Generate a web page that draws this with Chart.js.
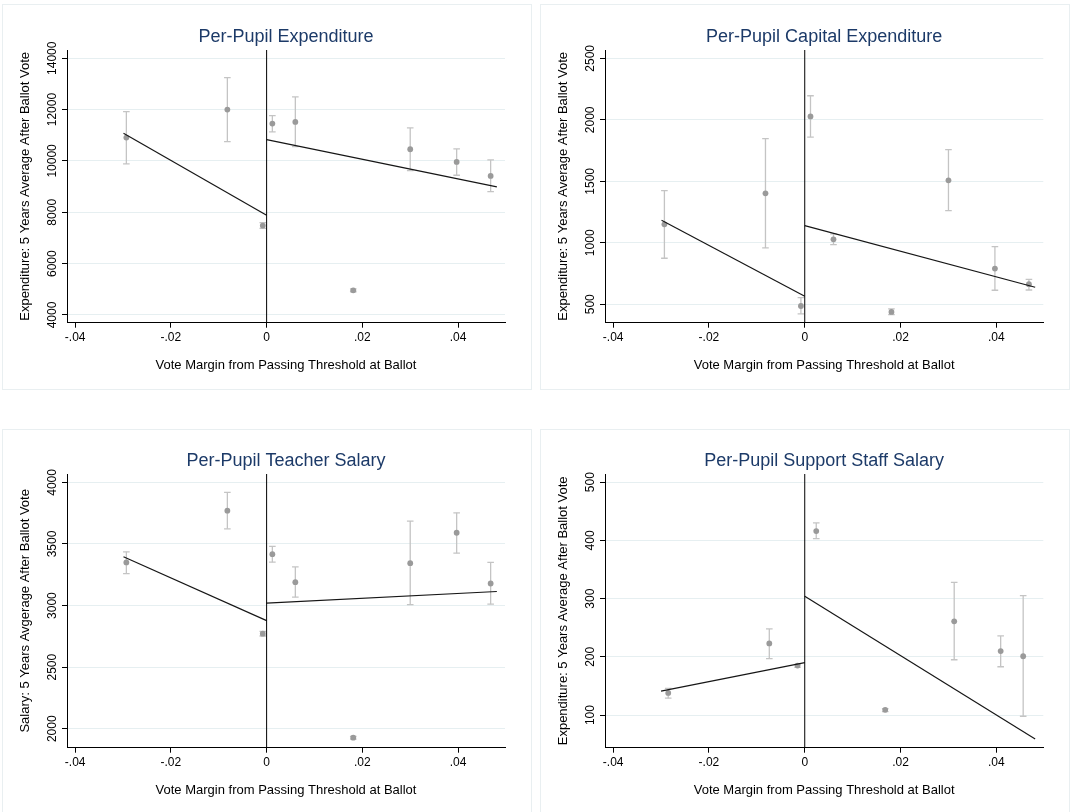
<!DOCTYPE html>
<html>
<head>
<meta charset="utf-8">
<title>Per-Pupil Outcomes around the Ballot Threshold</title>
<script src="https://cdn.jsdelivr.net/npm/chart.js@4.4.1/dist/chart.umd.min.js"></script>
<style>
  html, body { margin: 0; padding: 0; background: #fff; }
  #page { position: relative; width: 1070px; height: 812px; overflow: hidden; }
  .frame { position: absolute; border: 1px solid #e9eff1; box-sizing: border-box; }
  canvas { position: absolute; }
</style>
</head>
<body>
<div id="page">
  <div class="frame" style="left:2px; top:4px; width:530px; height:386px;"></div>
  <div class="frame" style="left:540px; top:4px; width:530px; height:386px;"></div>
  <div class="frame" style="left:2px; top:429px; width:530px; height:384px;"></div>
  <div class="frame" style="left:540px; top:429px; width:530px; height:384px;"></div>

  <canvas id="cExp"   width="535" height="400" style="left:0; top:0;"></canvas>
  <canvas id="cCap"   width="532" height="400" style="left:538px; top:0;"></canvas>
  <canvas id="cSal"   width="535" height="388" style="left:0; top:424px;"></canvas>
  <canvas id="cStaff" width="532" height="388" style="left:538px; top:424px;"></canvas>
</div>

<script>
// ---- shared x axis: vote margin bins ----
const xRange      = [-0.0417, 0.0498];
const xTicks      = [-0.04, -0.02, 0, 0.02, 0.04];
const xTickLabels = ['-.04', '-.02', '0', '.02', '.04'];
const binX        = [-0.0293, -0.0082, -0.0008, 0.0012, 0.0060, 0.0181, 0.0300, 0.0397, 0.0468];
const fitLeftX    = [-0.0299, 0];
const fitRightX   = [0, 0.0481];

// ---- per-pupil expenditure ----
const expMean     = [10909, 12000, 7481, 11455, 11519, 4961, 10455, 9961, 9416];
const expLow      = [9883, 10753, 7377, 11130, 10558, 4905, 9623, 9442, 8805];
const expHigh     = [11922, 13247, 7597, 11766, 12494, 5015, 11286, 10468, 10039];
const expFitLeft  = [11078, 7883];
const expFitRight = [10831, 8987];
const expTicks    = [4000, 6000, 8000, 10000, 12000, 14000];
const expRange    = [3700, 14320];

// ---- per-pupil capital expenditure ----
const capMean     = [1150, 1402, 486, 2028, 1028, 438, 1508, 790, 663];
const capLow      = [874, 958, 421, 1860, 985, 416, 1261, 614, 616];
const capHigh     = [1424, 1847, 554, 2196, 1072, 462, 1757, 969, 703];
const capFitLeft  = [1183, 565];
const capFitRight = [1140, 638];
const capTicks    = [500, 1000, 1500, 2000, 2500];
const capRange    = [350, 2568];

// ---- per-pupil teacher salary ----
const salMean     = [3350, 3770, 2772, 3417, 3190, 1927, 3344, 3591, 3179];
const salLow      = [3260, 3623, 2753, 3352, 3068, 1916, 3008, 3425, 3011];
const salHigh     = [3436, 3919, 2791, 3480, 3314, 1938, 3686, 3753, 3350];
const salFitLeft  = [3396, 2878];
const salFitRight = [3019, 3114];
const salTicks    = [2000, 2500, 3000, 3500, 4000];
const salRange    = [1846, 4068];

// ---- per-pupil support staff salary ----
const staffX        = [-0.0285, -0.0074, -0.0015, 0.0024, 0.0168, 0.0312, 0.0409, 0.0456];
const staffMean     = [138, 223, 185, 416, 109, 261, 210, 201];
const staffLow      = [129, 197, 182, 403, 106, 195, 183, 98];
const staffHigh     = [146, 248, 187, 430, 111, 328, 236, 305];
const staffFitLeftX = [-0.0300, 0];
const staffFitLeft  = [141, 190];
const staffFitRight = [304, 59];
const staffTicks    = [100, 200, 300, 400, 500];
const staffRange    = [44, 514];

const FONT = "'Liberation Sans', Arial, Helvetica, sans-serif";
const TICK_SIZE = 12;
const colors = {
  title: '#1c3a68',
  text:  '#000000',
  axis:  '#000000',
  grid:  '#e6eff1',
  dot:   '#9a9a9a',
  ci:    '#c4c4c4',
  fit:   '#161616'
};

// width of the widest tick label, used to centre the rotated y labels
function widestLabel(labels) {
  const ctx = document.createElement('canvas').getContext('2d');
  ctx.font = `${TICK_SIZE}px ${FONT}`;
  return Math.max(...labels.map(l => ctx.measureText(l).width));
}

function line(xs, ys) {
  return xs.map((x, i) => ({ x, y: ys[i] }));
}

function renderPanel(canvasId, cfg) {
  const ctx = document.getElementById(canvasId).getContext('2d');
  const yLabels = cfg.yTicks.map(String);
  const yPad = 14.5 - 5 - widestLabel(yLabels) / 2;

  const lineStyle = (color, width) => ({
    showLine: true, borderColor: color, borderWidth: width,
    pointRadius: 0, pointHoverRadius: 0, fill: false, tension: 0
  });

  const datasets = [
    // cutoff at zero
    Object.assign({ data: line([0, 0], cfg.yRange) }, lineStyle(colors.axis, 1)),
    // linear fits on each side
    Object.assign({ data: line(cfg.fitLeftX, cfg.fitLeft) }, lineStyle(colors.fit, 1.2)),
    Object.assign({ data: line(cfg.fitRightX, cfg.fitRight) }, lineStyle(colors.fit, 1.2)),
    // bin means
    {
      data: line(cfg.x, cfg.mean),
      pointRadius: 2.9, pointHoverRadius: 2.9,
      pointBackgroundColor: colors.dot, pointBorderWidth: 0
    }
  ];

  // capped confidence intervals
  cfg.x.forEach((x, i) => {
    datasets.push({
      data: [{ x, y: cfg.low[i] }, { x, y: cfg.high[i] }],
      showLine: true, borderColor: colors.ci, borderWidth: 1.3,
      pointStyle: 'line', pointRadius: 3.3, pointHoverRadius: 3.3,
      pointBorderColor: colors.ci, pointBorderWidth: 1.3
    });
  });

  return new Chart(ctx, {
    type: 'scatter',
    data: { datasets },
    options: {
      responsive: false,
      animation: false,
      events: [],
      layout: { padding: { left: 7, right: cfg.padRight, top: 0, bottom: cfg.padBottom } },
      plugins: {
        legend: { display: false },
        tooltip: { enabled: false },
        title: {
          display: true,
          fullSize: false,   // centre over the plot region, not the canvas
          text: cfg.title,
          color: colors.title,
          font: { family: FONT, size: 18, weight: 'normal', lineHeight: 1.2 },
          padding: { top: 26.2, bottom: 2.2 }
        }
      },
      scales: {
        x: {
          type: 'linear',
          min: xRange[0],
          max: xRange[1],
          afterBuildTicks: (scale) => { scale.ticks = xTicks.map(v => ({ value: v })); },
          afterFit: (scale) => { scale.height = 55; },
          ticks: {
            autoSkip: false, maxRotation: 0, minRotation: 0, padding: 3,
            color: colors.text,
            font: { family: FONT, size: TICK_SIZE },
            callback: (v, i) => xTickLabels[i]
          },
          grid: { drawOnChartArea: false, drawTicks: true, tickLength: 5, tickColor: colors.axis },
          border: { display: true, color: colors.axis, width: 1 },
          title: {
            display: true,
            text: 'Vote Margin from Passing Threshold at Ballot',
            color: colors.text,
            font: { family: FONT, size: 13, lineHeight: 1.2 },
            padding: { top: 0, bottom: 4 }
          }
        },
        y: {
          type: 'linear',
          min: cfg.yRange[0],
          max: cfg.yRange[1],
          afterBuildTicks: (scale) => { scale.ticks = cfg.yTicks.map(v => ({ value: v })); },
          afterFit: (scale) => { scale.width = 60; },
          ticks: {
            autoSkip: false, minRotation: 90, maxRotation: 90,
            crossAlign: 'center', padding: yPad,
            color: colors.text,
            font: { family: FONT, size: TICK_SIZE },
            callback: (v) => String(v)
          },
          grid: { color: colors.grid, lineWidth: 1, drawTicks: true, tickLength: 5, tickColor: colors.axis },
          border: { display: true, color: colors.axis, width: 1 },
          title: {
            display: true,
            text: cfg.yTitle,
            color: colors.text,
            font: { family: FONT, size: 13, lineHeight: 1.2 },
            padding: { top: 10.2, bottom: 0 }
          }
        }
      }
    }
  });
}

renderPanel('cExp', {
  title: 'Per-Pupil Expenditure',
  yTitle: 'Expenditure: 5 Years Average After Ballot Vote',
  x: binX, mean: expMean, low: expLow, high: expHigh,
  fitLeftX, fitRightX, fitLeft: expFitLeft, fitRight: expFitRight,
  yTicks: expTicks, yRange: expRange,
  padRight: 30, padBottom: 22.3
});

renderPanel('cCap', {
  title: 'Per-Pupil Capital Expenditure',
  yTitle: 'Expenditure: 5 Years Average After Ballot Vote',
  x: binX, mean: capMean, low: capLow, high: capHigh,
  fitLeftX, fitRightX, fitLeft: capFitLeft, fitRight: capFitRight,
  yTicks: capTicks, yRange: capRange,
  padRight: 26.7, padBottom: 22.3
});

renderPanel('cSal', {
  title: 'Per-Pupil Teacher Salary',
  yTitle: 'Salary: 5 Years Avgerage After Ballot Vote',
  x: binX, mean: salMean, low: salLow, high: salHigh,
  fitLeftX, fitRightX, fitLeft: salFitLeft, fitRight: salFitRight,
  yTicks: salTicks, yRange: salRange,
  padRight: 30, padBottom: 9.3
});

renderPanel('cStaff', {
  title: 'Per-Pupil Support Staff Salary',
  yTitle: 'Expenditure: 5 Years Average After Ballot Vote',
  x: staffX, mean: staffMean, low: staffLow, high: staffHigh,
  fitLeftX: staffFitLeftX, fitRightX, fitLeft: staffFitLeft, fitRight: staffFitRight,
  yTicks: staffTicks, yRange: staffRange,
  padRight: 26.7, padBottom: 9.3
});
</script>
</body>
</html>
